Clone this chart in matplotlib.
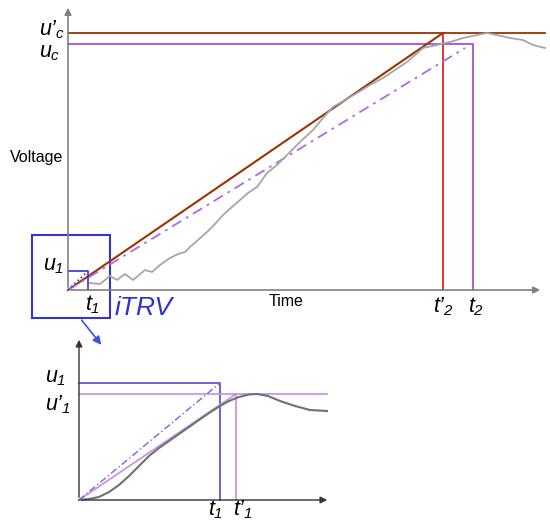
import matplotlib
matplotlib.use("Agg")
import matplotlib.pyplot as plt
from matplotlib.patches import Rectangle

plt.rcParams["font.family"] = ["Liberation Sans", "DejaVu Sans"]
plt.rcParams["mathtext.fontset"] = "custom"
plt.rcParams["mathtext.it"] = "Liberation Sans:italic"
plt.rcParams["mathtext.rm"] = "Liberation Sans:italic"

# main diagram (schematic units: time, voltage)
uc_prime, uc = 257, 246
t2_prime, t2 = 375, 405
dashdot_end = (397, 242)
itrv_t1, itrv_u1 = 20, 19
itrv_box = (-36, -28, 78, 83)  # t, v, width, height
trv_t = [22, 32, 42, 49, 57, 65, 77, 84, 92, 102, 110, 117, 122, 130, 139,
         147, 155, 164, 172, 180, 189, 194, 199, 209, 219, 232, 245, 255,
         265, 277, 289, 302, 315, 327, 339, 347, 355, 369, 382, 395, 409,
         419, 429, 442, 455, 465, 477]
trv_v = [7, 6, 14, 10, 16, 10, 20, 18, 25, 32, 36, 38, 43, 50, 58, 66, 75,
         83, 90, 97, 103, 110, 117, 125, 135, 148, 160, 172, 183, 190, 197,
         205, 212, 220, 228, 235, 242, 245, 248, 252, 255, 257, 255, 252,
         250, 245, 242]

# zoomed inset (initial TRV)
u1, u1_prime = 117, 106
t1, t1_prime = 141, 157
init_t = [0, 10, 20, 30, 40, 50, 60, 70, 80, 90, 100, 110, 120, 130, 141,
          150, 160, 170, 178, 189, 201, 216, 231, 248]
init_v = [0, 1, 3, 8, 15, 24, 34, 44, 52, 59, 66, 73, 80, 87, 94, 99, 103,
          105.5, 106, 104, 99, 94, 90, 89]

BROWN = "#993300"
RED = "#d92626"
PURPLE = "#a24fe0"
DASH_PURPLE = "#b366e6"
BLUE = "#3535c8"
GRAY_AX = "#808080"

fig = plt.figure(figsize=(5.5, 5.28), dpi=100)

ax = fig.add_axes([68 / 550, 238 / 528, 477 / 550, 285 / 528])
ax.set_xlim(0, 477)
ax.set_ylim(0, 285)
ax.axis("off")

arrow = dict(arrowstyle="-|>", color=GRAY_AX, lw=1.2, mutation_scale=10)
ax.annotate("", xy=(0, 285), xytext=(0, 0), arrowprops=arrow, annotation_clip=False)
ax.annotate("", xy=(475, 0), xytext=(0, 0), arrowprops=arrow, annotation_clip=False)

ax.plot([0, 477], [uc_prime, uc_prime], color=BROWN, lw=1.3, clip_on=False)
ax.plot([0, t2, t2], [uc, uc, 0], color=PURPLE, lw=1.3, clip_on=False)
ax.plot([t2_prime, t2_prime], [0, uc_prime], color=RED, lw=1.3, clip_on=False)
ax.plot([0, t2_prime], [0, uc_prime], color=BROWN, lw=1.5, clip_on=False)
ax.plot([0, dashdot_end[0]], [0, dashdot_end[1]], color=DASH_PURPLE, lw=1.3,
        linestyle=(0, (6, 3, 1.5, 3)), clip_on=False)
ax.plot(trv_t, trv_v, color="#a6a6a6", lw=1.3, clip_on=False)

ax.plot([0, itrv_t1, itrv_t1], [itrv_u1, itrv_u1, 0], color=BLUE, lw=1.2, clip_on=False)
ax.plot([0, itrv_t1], [0, itrv_u1], color=BLUE, lw=1.2, linestyle=":", clip_on=False)
ax.add_patch(Rectangle(itrv_box[:2], itrv_box[2], itrv_box[3], fill=False,
                       edgecolor=BLUE, lw=1.5, clip_on=False))
ax.annotate("", xy=(35, -57), xytext=(12, -28),
            arrowprops=dict(arrowstyle="-|>", color="#3a55dd", lw=1.2, mutation_scale=12),
            annotation_clip=False)

lab = dict(fontsize=15.5, va="baseline", clip_on=False)
ax.text(-29, 255, r"$u’_c$", ha="left", **lab)
ax.text(-29, 233, r"$u_c$", ha="left", **lab)
ax.text(-25, 20, r"$u_\mathit{1}$", ha="left", **lab)
ax.text(17, -20, r"$t_\mathit{1}$", ha="left", **lab)
ax.text(365, -22, r"$t’_\mathit{2}$", ha="left", **lab)
ax.text(400, -22, r"$t_\mathit{2}$", ha="left", **lab)
ax.text(47, -25, "iTRV", color="#3030d0", fontsize=19, style="italic",
        ha="left", va="baseline")
ax.text(-5, 128, "Voltage", fontsize=11.5, ha="right", va="baseline")
ax.text(218, -16, "Time", fontsize=11.5, ha="center", va="baseline")

# inset
ai = fig.add_axes([79 / 550, 28 / 528, 251 / 550, 163 / 528])
ai.set_xlim(0, 251)
ai.set_ylim(0, 163)
ai.axis("off")

arrow_k = dict(arrowstyle="-|>", color="#333333", lw=1.0, mutation_scale=10)
ai.annotate("", xy=(0, 163), xytext=(0, 0), arrowprops=arrow_k, annotation_clip=False)
ai.annotate("", xy=(251, 0), xytext=(0, 0), arrowprops=arrow_k, annotation_clip=False)

ai.plot([0, t1, t1], [u1, u1, 0], color="#4a4ad6", lw=1.2, clip_on=False)
ai.plot([0, 248], [u1_prime, u1_prime], color="#c88ceb", lw=1.2, clip_on=False)
ai.plot([t1_prime, t1_prime], [0, u1_prime], color="#c88ceb", lw=1.2, clip_on=False)
ai.plot([0, t1_prime], [0, u1_prime], color="#c88ceb", lw=1.2, clip_on=False)
ai.plot([0, t1], [0, u1], color="#6a6ae0", lw=1.0,
        linestyle=(0, (5, 2, 1, 2)), clip_on=False)
ai.plot(init_t, init_v, color="#707070", lw=1.5, clip_on=False)

ai.text(-34, 118, r"$u_\mathit{1}$", ha="left", **lab)
ai.text(-34, 90, r"$u’_\mathit{1}$", ha="left", **lab)
ai.text(129, -15, r"$t_\mathit{1}$", ha="left", **lab)
ai.text(154, -15, r"$t’_\mathit{1}$", ha="left", **lab)

fig.savefig("out.png", dpi=100)
